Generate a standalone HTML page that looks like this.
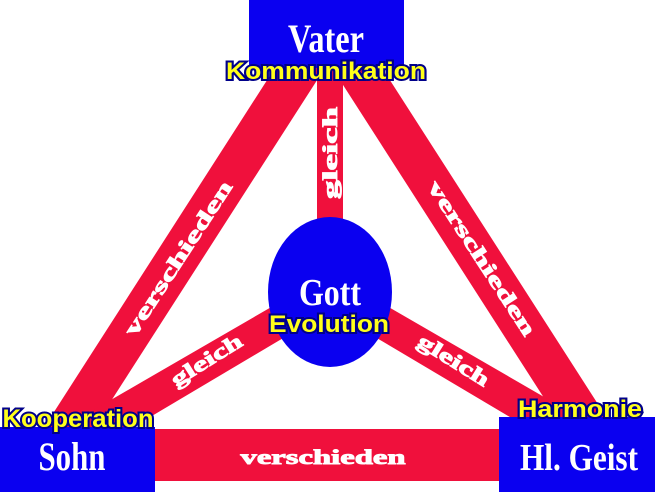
<!DOCTYPE html>
<html><head><meta charset="utf-8"><style>
html,body{margin:0;padding:0;background:#fff;width:655px;height:492px;overflow:hidden}
svg{display:block}
.w{fill:#fff;stroke:#fff;stroke-width:0.9;font-family:"Liberation Serif",serif;font-weight:bold}
.y{fill:#ffff1a;stroke:#00008a;stroke-width:4;paint-order:stroke;font-family:"Liberation Sans",sans-serif;font-weight:bold}
.bt{fill:#fff;font-family:"Liberation Serif",serif;font-weight:bold}
</style></head><body>
<svg width="655" height="492" viewBox="0 0 655 492" xmlns="http://www.w3.org/2000/svg">
<g fill="#f0103c">
<polygon points="280,60 330,60 86,440 36,440"/>
<polygon points="327,60 377,60 621,440 571,440"/>
<rect x="317" y="70" width="26" height="160"/>
<polygon points="280,302 290,334 108,442 90,412"/>
<polygon points="380,302 370,334 552,442 570,412"/>
<rect x="150" y="429" width="360" height="52"/>
</g>
<ellipse cx="330" cy="292" rx="62" ry="75" fill="#0a00f0"/>
<rect x="249" y="0" width="155" height="68" fill="#0a00f0"/>
<rect x="0" y="427" width="155" height="65" fill="#0a00f0"/>
<rect x="499" y="417" width="156" height="75" fill="#0a00f0"/>

<g class="w" font-size="21">
<text x="0" y="0" text-anchor="middle" textLength="180" lengthAdjust="spacingAndGlyphs" transform="translate(184,262) rotate(-57)">verschieden</text>
<text x="0" y="0" text-anchor="middle" textLength="180" lengthAdjust="spacingAndGlyphs" transform="translate(476,262) rotate(57)">verschieden</text>
<text x="0" y="0" text-anchor="middle" textLength="92" lengthAdjust="spacingAndGlyphs" transform="translate(337,153) rotate(-90)">gleich</text>
<text x="0" y="0" text-anchor="middle" textLength="80" lengthAdjust="spacingAndGlyphs" transform="translate(210,366) rotate(-32)">gleich</text>
<text x="0" y="0" text-anchor="middle" textLength="80" lengthAdjust="spacingAndGlyphs" transform="translate(450,366) rotate(32)">gleich</text>
<text x="323" y="464" text-anchor="middle" textLength="165" lengthAdjust="spacingAndGlyphs">verschieden</text>
</g>

<text class="bt" x="326" y="52" text-anchor="middle" font-size="40" textLength="76" lengthAdjust="spacingAndGlyphs">Vater</text>
<text class="y" x="326" y="79" text-anchor="middle" font-size="24" textLength="200" lengthAdjust="spacingAndGlyphs">Kommunikation</text>
<text class="bt" x="330" y="305" text-anchor="middle" font-size="38" textLength="62" lengthAdjust="spacingAndGlyphs">Gott</text>
<text class="y" x="329" y="332" text-anchor="middle" font-size="24" textLength="120" lengthAdjust="spacingAndGlyphs">Evolution</text>
<text class="y" x="78" y="427" text-anchor="middle" font-size="25" textLength="151" lengthAdjust="spacingAndGlyphs">Kooperation</text>
<text class="bt" x="72" y="470" text-anchor="middle" font-size="40" textLength="67" lengthAdjust="spacingAndGlyphs">Sohn</text>
<text class="y" x="580" y="417" text-anchor="middle" font-size="24" textLength="124" lengthAdjust="spacingAndGlyphs">Harmonie</text>
<text class="bt" x="579" y="470" text-anchor="middle" font-size="38" textLength="118" lengthAdjust="spacingAndGlyphs">Hl. Geist</text>
</svg>
</body></html>
